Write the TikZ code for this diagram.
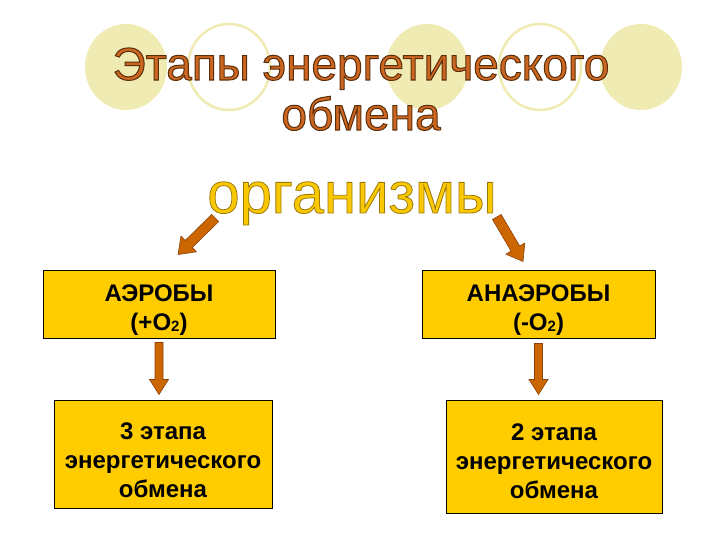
\documentclass[tikz,border=0pt]{standalone}
\usepackage{fontspec}
\setmainfont{Liberation Sans}
\usepackage{tikz}
\usetikzlibrary{positioning,calc}

\definecolor{boxfill}{RGB}{255,204,0}
\definecolor{ringcol}{RGB}{240,235,178}
\definecolor{titlefill}{RGB}{204,102,32}
\definecolor{orgfill}{RGB}{250,200,0}
\definecolor{arrowfill}{RGB}{204,102,0}
\definecolor{arrowedge}{RGB}{140,65,10}

% outlined text: stroke colour (rgb 0..1), line width, text
\newcommand\outlined[3]{{\special{pdf:literal direct #1 RG #2 w 2 Tr}#3\special{pdf:literal direct 0 Tr}}}
\newcommand\lowtwo{\raisebox{-1pt}{\fontsize{15}{15}\selectfont 2}}

% block arrow: tail, tip, half shaft, half head, head length
\newcommand\fatarrow[5]{%
  \path ($(#2)!#5!(#1)$) coordinate (hb);
  \draw[arrowbody] ($(#1)!#3!90:(#2)$) -- ($(hb)!#3!90:(#2)$) -- ($(hb)!#4!90:(#2)$) -- (#2)
    -- ($(hb)!#4!-90:(#2)$) -- ($(hb)!#3!-90:(#2)$) -- ($(#1)!#3!-90:(#2)$) -- cycle;}

\begin{document}
\begin{tikzpicture}[x=1pt, y=-1pt,
    stagebox/.style={rectangle, draw=black, line width=1pt, fill=boxfill, inner sep=0pt, align=center,
      font=\fontsize{24}{29}\selectfont\bfseries},
    lift/.style={text height=#1, text depth=0pt},
    ring/.style={draw=ringcol, line width=2.5pt, fill=white},
    disc/.style={draw=none, fill=ringcol},
    arrowbody/.style={draw=arrowedge, fill=arrowfill, line width=0.6pt}
]
  \useasboundingbox[fill=white] (0,0) rectangle (720,540);

  % circles behind the title
  \foreach \cx/\kind in {126/disc, 229/ring, 427/disc, 540/ring, 641/disc}
    \draw[\kind] (\cx,67) ellipse [x radius=41, y radius=43];

  % title
  \node[font=\fontsize{46}{50}\selectfont, text=titlefill, align=center, inner sep=0pt, anchor=base] (title) at (361,130)
    {\outlined{0.35 0.18 0.04}{1}{Этапы энергетического}\\\outlined{0.35 0.18 0.04}{1}{обмена}};
  \node[font=\fontsize{58}{60}\selectfont, text=orgfill, inner sep=0pt, anchor=base] (org) at (352,213)
    {\outlined{0.62 0.48 0.05}{0.8}{организмы}};

  % Row 1
  \node[stagebox, lift=52pt, minimum width=232, minimum height=68] (aer) at (159,304) {АЭРОБЫ\\(+O\lowtwo)};
  \node[stagebox, lift=52pt, minimum width=233, minimum height=68] (ana) at (538.5,304) {АНАЭРОБЫ\\(-O\lowtwo)};

  % Row 2
  \node[stagebox, lift=86pt, minimum width=218, minimum height=108] (three) at (163,454) {3 этапа\\энергетического\\обмена};
  \node[stagebox, lift=84pt, minimum width=216, minimum height=113] (two) at (554,456.5) {2 этапа\\энергетического\\обмена};

  % Arrows
  \coordinate (lt) at ($(org.base west)+(8,5)$);
  \coordinate (lh) at ($(aer.north)+(19,-15)$);
  \coordinate (rt) at ($(org.base east)+(0,4)$);
  \coordinate (rh) at ($(ana.north)+(-15.5,-8)$);
  \coordinate (at) at ($(aer.south)+(0,4)$);
  \coordinate (ah) at ($(aer.south |- three.north)+(0,-5)$);
  \coordinate (nt) at ($(ana.south)+(0,5)$);
  \coordinate (nh) at ($(ana.south |- two.north)+(0,-5)$);
  \fatarrow{lt}{lh}{5pt}{11pt}{15pt}
  \fatarrow{rt}{rh}{5pt}{11pt}{15pt}
  \fatarrow{at}{ah}{4pt}{9.5pt}{15pt}
  \fatarrow{nt}{nh}{4pt}{9.5pt}{15pt}
\end{tikzpicture}
\end{document}
